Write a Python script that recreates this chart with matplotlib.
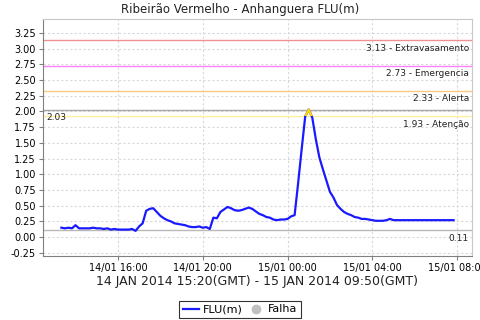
import numpy as np
import pandas as pd
import matplotlib
matplotlib.use("Agg")
import matplotlib.pyplot as plt
import matplotlib.dates as mdates
from matplotlib.lines import Line2D
from matplotlib.patches import Rectangle

# nivel (m) a cada 10 minutos, horario local, de 14/01 13:20 ate 15/01 07:50
flu = [0.15, 0.14, 0.15, 0.14, 0.19, 0.14, 0.14, 0.14, 0.14, 0.15,
       0.14, 0.14, 0.13, 0.14, 0.12, 0.13, 0.12, 0.12, 0.12, 0.12,
       0.13, 0.10, 0.17, 0.22, 0.42, 0.45, 0.46, 0.40, 0.34, 0.30,
       0.27, 0.25, 0.22, 0.21, 0.20, 0.19, 0.17, 0.16, 0.16, 0.17,
       0.15, 0.16, 0.13, 0.31, 0.30, 0.40, 0.44, 0.48, 0.46, 0.43,
       0.42, 0.43, 0.45, 0.47, 0.45, 0.41, 0.37, 0.35, 0.32, 0.31,
       0.28, 0.27, 0.28, 0.28, 0.29, 0.33, 0.35, 0.86, 1.40, 1.92,
       2.03, 1.90, 1.56, 1.27, 1.08, 0.90, 0.72, 0.63, 0.51, 0.45,
       0.40, 0.37, 0.35, 0.32, 0.31, 0.29, 0.29, 0.28, 0.27, 0.26,
       0.26, 0.26, 0.27, 0.29, 0.27, 0.27, 0.27, 0.27, 0.27, 0.27,
       0.27, 0.27, 0.27, 0.27, 0.27, 0.27, 0.27, 0.27, 0.27, 0.27,
       0.27, 0.27]
tempo = pd.date_range("2014-01-14 13:20", periods=len(flu), freq="10min")

cotas = [3.13, 2.73, 2.33, 1.93]
cota_nomes = ["Extravasamento", "Emergencia", "Alerta", "Atenção"]
cota_cores = ["#f09090", "#ff80ff", "#ffc880", "#fff0a0"]
maximo = 2.03
minimo = 0.11
yticks = [-0.25, 0, 0.25, 0.5, 0.75, 1, 1.25, 1.5, 1.75, 2, 2.25, 2.5, 2.75, 3, 3.25]
xticks = pd.to_datetime(["2014-01-14 16:00", "2014-01-14 20:00", "2014-01-15 00:00",
                         "2014-01-15 04:00", "2014-01-15 08:00"])

fig = plt.figure(figsize=(4.8, 3.2), dpi=100)
ax = fig.add_axes([43/480, 1 - 256/320, 429/480, 237/320])

x0 = pd.Timestamp("2014-01-14 12:28")
x1 = pd.Timestamp("2014-01-15 08:42")
ax.set_xlim(x0, x1)
ax.set_ylim(-0.30, 3.47)

ax.grid(True, color="#d8d8d8", linestyle=(0, (2, 2)), linewidth=0.8)
ax.set_axisbelow(True)

for c, cor in zip(cotas, cota_cores):
    ax.axhline(c, color=cor, linewidth=1.0, zorder=2)
ax.axhline(maximo, color="#a8a8a8", linewidth=1.0, zorder=2)
ax.axhline(minimo, color="#b8b8b8", linewidth=1.0, zorder=2)

for c, nome in zip(cotas, cota_nomes):
    ax.text(0.993, c - 0.06, "%.2f - %s" % (c, nome), transform=ax.get_yaxis_transform(),
            ha="right", va="top", fontsize=6.5, color="#222222")
ax.text(0.008, maximo - 0.06, "%.2f" % maximo, transform=ax.get_yaxis_transform(),
        ha="left", va="top", fontsize=6.5, color="#222222")
ax.text(0.993, minimo - 0.06, "%.2f" % minimo, transform=ax.get_yaxis_transform(),
        ha="right", va="top", fontsize=6.5, color="#222222")

ax.plot(tempo, flu, color="#1a1aff", linewidth=1.6, zorder=3)
# trecho acima da cota de atencao em amarelo
linha_am, = ax.plot(tempo, flu, color="#ffd700", linewidth=1.6, zorder=4)
clip = Rectangle((mdates.date2num(x0), cotas[3]), 2, 5, transform=ax.transData)
linha_am.set_clip_path(clip)

ax.set_yticks(yticks)
ax.set_yticklabels(["%.2f" % v for v in yticks])
ax.set_xticks(xticks)
ax.xaxis.set_major_formatter(mdates.DateFormatter("%d/%m %H:%M"))
ax.tick_params(labelsize=7, length=3, color="#808080", pad=2)

for s in ["left", "bottom"]:
    ax.spines[s].set_color("#808080")
for s in ["top", "right"]:
    ax.spines[s].set_color("#c8c8c8")

fig.text(0.5, 1 - 10/320, "Ribeirão Vermelho - Anhanguera FLU(m)", ha="center", va="center",
         fontsize=8.5, color="#222222")
fig.text(257.5/480, 1 - 282/320, "14 JAN 2014 15:20(GMT) - 15 JAN 2014 09:50(GMT)", ha="center",
         va="center", fontsize=9, color="#222222")

handles = [Line2D([], [], color="#1a1aff", linewidth=1.6),
           Line2D([], [], color="#c0c0c0", marker="o", linestyle="none", markersize=6)]
leg = fig.legend(handles, ["FLU(m)", "Falha"], loc="lower center", bbox_to_anchor=(0.5, 0.0),
                 ncol=2, fontsize=8, frameon=True, fancybox=False, handlelength=1.5,
                 handletextpad=0.3, columnspacing=0.5, borderpad=0.3, borderaxespad=0.2)
leg.get_frame().set_edgecolor("black")
leg.get_frame().set_linewidth(0.8)

fig.savefig("out.png", dpi=100)
